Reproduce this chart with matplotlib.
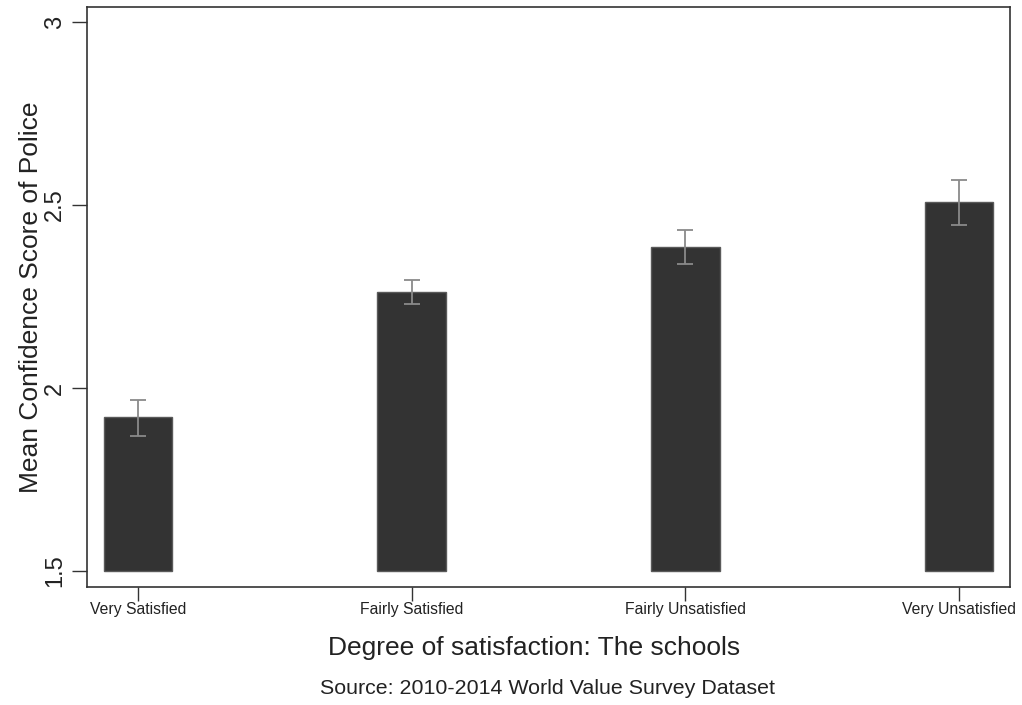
import matplotlib
matplotlib.use("Agg")
import matplotlib.pyplot as plt
import numpy as np

plt.rcParams['font.family'] = ['Liberation Sans', 'DejaVu Sans']

categories = ["Very Satisfied", "Fairly Satisfied", "Fairly Unsatisfied", "Very Unsatisfied"]
means = [1.921, 2.262, 2.385, 2.507]
err_low = [1.869, 2.229, 2.338, 2.444]
err_high = [1.967, 2.295, 2.431, 2.567]
yticks = [1.5, 2, 2.5, 3]
ytick_labels = ["1.5", "2", "2.5", "3"]

fig = plt.figure(figsize=(10.22, 7.05), dpi=100)
ax = fig.add_axes([0.0851, 0.1674, 0.9032, 0.8226])

x = np.arange(len(categories))
base = 1.5
heights = [m - base for m in means]
ax.bar(x, heights, bottom=base, width=0.25, color="#333333",
       edgecolor="#5a5a5a", linewidth=1.0, zorder=2)

yerr = np.array([[m - lo for m, lo in zip(means, err_low)],
                 [hi - m for m, hi in zip(means, err_high)]])
ax.errorbar(x, means, yerr=yerr, fmt="none", ecolor="#8a8a8a",
            elinewidth=1.3, capsize=6, capthick=1.3, zorder=3)

ax.set_xlim(-0.186, 3.186)
ax.set_ylim(1.456, 3.041)
ax.set_yticks(yticks)
ax.set_yticklabels(ytick_labels, rotation=90, va="center", fontsize=17, color="#222222")
ax.set_xticks(x)
ax.set_xticklabels(categories, fontsize=11.3, color="#222222")
ax.tick_params(axis="both", direction="out", width=1.0, color="#333333")
ax.tick_params(axis="x", length=10, pad=1)
ax.tick_params(axis="y", length=11, pad=4)
for s in ax.spines.values():
    s.set_color("#333333")
    s.set_linewidth(1.2)

ax.set_ylabel("Mean Confidence Score of Police", fontsize=19, labelpad=1, color="#222222")
fig.text(534 / 1022, 1 - 648 / 705, "Degree of satisfaction: The schools",
         ha="center", va="center", fontsize=19, color="#222222")
fig.text(547 / 1022, 1 - 688 / 705, "Source: 2010-2014 World Value Survey Dataset",
         ha="center", va="center", fontsize=15.4, color="#222222")

fig.savefig("out.png", dpi=100)
